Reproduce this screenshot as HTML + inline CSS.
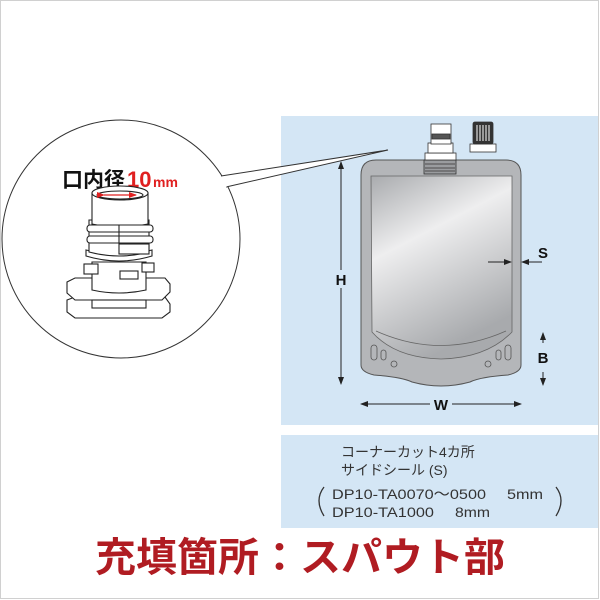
<!DOCTYPE html>
<html><head><meta charset="utf-8"><style>
html,body{margin:0;padding:0;background:#fff;}
body{width:600px;height:600px;position:relative;overflow:hidden;font-family:"Liberation Sans","Noto Sans CJK JP",sans-serif;}
</style></head><body>
<svg width="600" height="600" viewBox="0 0 600 600" xmlns="http://www.w3.org/2000/svg" style="position:absolute;left:0;top:0">
<defs>
<linearGradient id="g" x1="0" y1="0" x2="0.4" y2="1">
<stop offset="0" stop-color="#a9abae"/><stop offset="0.4" stop-color="#eeeeef"/><stop offset="1" stop-color="#a8aaad"/></linearGradient>
<marker id="a" markerWidth="8" markerHeight="6" refX="7" refY="3" orient="auto" markerUnits="userSpaceOnUse"><path d="M0,0 L8,3 L0,6 z" fill="#222"/></marker>
<marker id="r" markerWidth="8" markerHeight="6" refX="7" refY="3" orient="auto" markerUnits="userSpaceOnUse"><path d="M0,0 L8,3 L0,6 z" fill="#e02020"/></marker>
</defs>
<rect x="0.5" y="0.5" width="598" height="598" fill="none" stroke="#d0d0d0"/>
<rect x="281" y="116" width="317" height="309" fill="#d4e6f5"/>
<rect x="281" y="435" width="317" height="93" fill="#d4e6f5"/>
<circle cx="121" cy="239" r="119" fill="#fff" stroke="#333" stroke-width="1"/>
<path d="M221,176 L388,150 L226,187" fill="#fff" stroke="#333" stroke-width="1"/>
<path d="M219,178 L226,187" stroke="#fff" stroke-width="3"/>
<text x="62" y="187" font-size="21" font-weight="bold" fill="#111">口内径</text>
<text x="127" y="187" font-size="22" font-weight="bold" fill="#e02020">10</text>
<text x="153" y="187" font-size="14" font-weight="bold" fill="#e02020">mm</text>
<g fill="#fff" stroke="#222" stroke-width="1.1">
<path d="M67,300 L75,297 L165,297 L170,304 L170,312 L162,318 L75,318 L67,312 z"/>
<path d="M67,282 L75,278 L165,278 L170,284 L170,292 L162,300 L75,300 L67,293 z"/>
<rect x="92" y="300" width="54" height="8"/>
<path d="M92,262 L92,290 Q119,296 146,290 L146,262 z"/>
<rect x="84" y="264" width="14" height="10"/><rect x="142" y="263" width="12" height="9"/>
<rect x="120" y="271" width="18" height="8"/>
<path d="M86,256 Q119,266 152,256 L152,250 Q119,258 86,250 z"/>
<path d="M89,220 L89,252 Q119,260 149,252 L149,220 z"/>
<path d="M92,193 L92,224 Q120,230 148,224 L148,193 z"/>
<rect x="87" y="225" width="66" height="7" rx="3"/>
<rect x="87" y="236" width="66" height="7" rx="3"/>
<line x1="119" y1="225" x2="119" y2="243"/>
<rect x="119" y="244" width="30" height="10"/>
<ellipse cx="120" cy="193" rx="28" ry="7"/>
<ellipse cx="120" cy="195" rx="23" ry="4"/>
</g>
<line x1="104" y1="195" x2="136" y2="195" stroke="#e02020" stroke-width="1.3" marker-end="url(#r)" marker-start="url(#r)"/>
<path d="M376,160 L506,160 Q521,160 521,175 L521,365 Q521,372 508,375 Q480,377 470,382 Q441,390 412,382 Q402,377 374,375 Q361,372 361,365 L361,175 Q361,160 376,160 z" fill="#b4b6b9" stroke="#555" stroke-width="1"/>
<path d="M371,176 L512,176 L512,332 Q487,358 441,359 Q395,358 372,332 z" fill="url(#g)" stroke="#666" stroke-width="0.8"/>
<path d="M376,331 Q441,360 506,331" fill="none" stroke="#666" stroke-width="0.8"/>
<g fill="none" stroke="#555" stroke-width="0.8">
<rect x="371" y="345" width="6" height="15" rx="3"/><rect x="381" y="350" width="5" height="10" rx="2.5"/><circle cx="394" cy="364" r="3"/>
<rect x="505" y="345" width="6" height="15" rx="3"/><rect x="496" y="350" width="5" height="10" rx="2.5"/><circle cx="488" cy="364" r="3"/>
</g>
<g fill="#fff" stroke="#333" stroke-width="0.8">
<rect x="424" y="160" width="32" height="14" fill="#9a9c9f"/>
<line x1="425" y1="164" x2="455" y2="164"/><line x1="425" y1="168" x2="455" y2="168"/><line x1="425" y1="171" x2="455" y2="171"/>
<rect x="425" y="153" width="31" height="7"/>
<rect x="428" y="143" width="25" height="10"/>
<rect x="431" y="124" width="20" height="20"/>
<rect x="432" y="134" width="18" height="5" fill="#555"/>
<rect x="470" y="144" width="26" height="8"/>
<rect x="473" y="122" width="20" height="22" rx="2" fill="#333"/>
</g>
<g stroke="#fff" stroke-width="1"><line x1="477" y1="125" x2="477" y2="141"/><line x1="480" y1="125" x2="480" y2="141"/><line x1="483" y1="125" x2="483" y2="141"/><line x1="486" y1="125" x2="486" y2="141"/><line x1="489" y1="125" x2="489" y2="141"/></g>
<g stroke="#222" stroke-width="1" fill="none">
<line x1="341" y1="270" x2="341" y2="162" marker-end="url(#a)"/>
<line x1="341" y1="288" x2="341" y2="384" marker-end="url(#a)"/>
<line x1="430" y1="404" x2="361" y2="404" marker-end="url(#a)"/>
<line x1="452" y1="404" x2="521" y2="404" marker-end="url(#a)"/>
<line x1="488" y1="262" x2="511" y2="262" marker-end="url(#a)"/>
<line x1="542" y1="262" x2="522" y2="262" marker-end="url(#a)"/>
<line x1="543" y1="343" x2="543" y2="333" marker-end="url(#a)"/>
<line x1="543" y1="372" x2="543" y2="385" marker-end="url(#a)"/>
</g>
<g font-size="15" font-weight="bold" fill="#111" text-anchor="middle">
<text x="341" y="285">H</text><text x="441" y="410">W</text><text x="543" y="258">S</text><text x="543" y="363">B</text>
</g>
<g font-size="14" fill="#333">
<text x="341" y="457">コーナーカット4カ所</text>
<text x="341" y="475">サイドシール (S)</text>
<text x="332" y="499" textLength="154" lengthAdjust="spacingAndGlyphs">DP10-TA0070～0500</text>
<text x="507" y="499" textLength="36" lengthAdjust="spacingAndGlyphs">5mm</text>
<text x="332" y="517" textLength="102" lengthAdjust="spacingAndGlyphs">DP10-TA1000</text>
<text x="455" y="517" textLength="35" lengthAdjust="spacingAndGlyphs">8mm</text>
</g>
<path d="M324,487 Q314,500 324,516" fill="none" stroke="#333" stroke-width="1.3"/>
<path d="M556,487 Q566,500 556,516" fill="none" stroke="#333" stroke-width="1.3"/>
<text x="300" y="571" font-size="40" font-weight="bold" fill="#b01c22" text-anchor="middle" textLength="410" lengthAdjust="spacingAndGlyphs">充填箇所：スパウト部</text>
</svg>
</body></html>
